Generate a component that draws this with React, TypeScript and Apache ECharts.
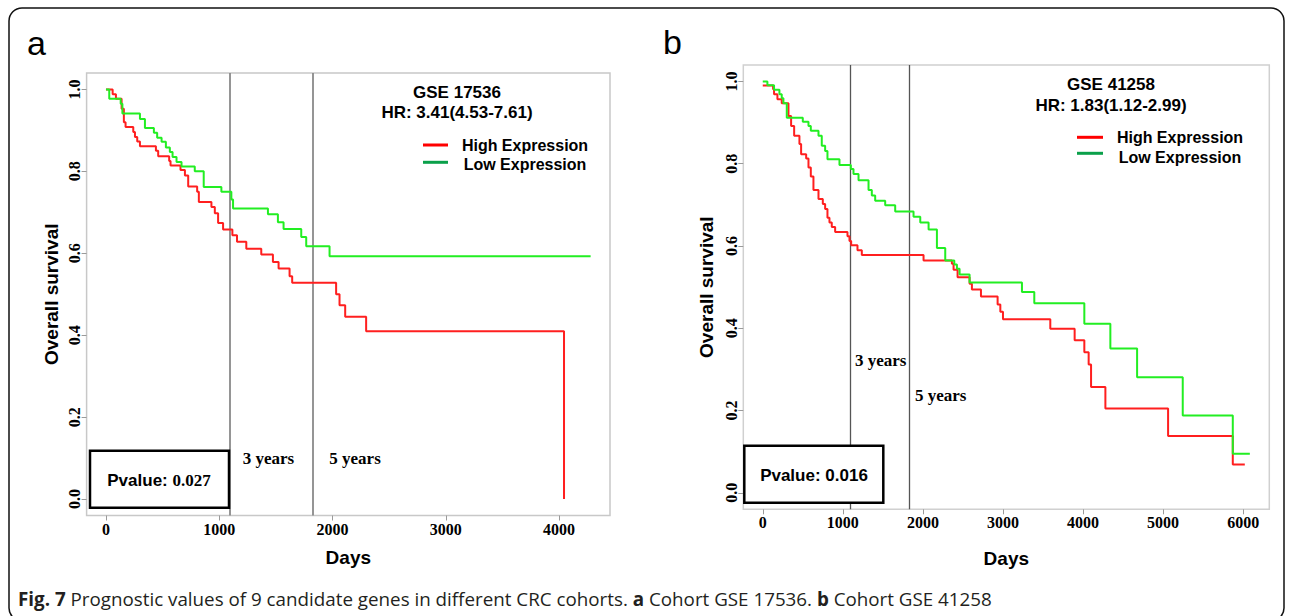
import React, { useEffect, useRef } from "react";
import * as echarts from "echarts";

// ---------- Data ----------
// Panel a: GSE 17536
const aHighDays = [0, 59, 88, 138, 158, 173, 241, 256, 276, 300, 441, 461, 558, 570, 658, 697, 726, 805, 820, 931, 961, 990, 1034, 1116, 1157, 1239, 1371, 1474, 1524, 1621, 1644, 2032, 2062, 2112, 2297, 4044];
const aHighSurv = [1.0, 0.988, 0.977, 0.953, 0.92, 0.908, 0.896, 0.884, 0.873, 0.861, 0.85, 0.837, 0.825, 0.814, 0.803, 0.79, 0.763, 0.75, 0.725, 0.713, 0.698, 0.674, 0.658, 0.644, 0.628, 0.611, 0.597, 0.579, 0.563, 0.544, 0.528, 0.5, 0.473, 0.445, 0.41, 0.0];
const aLowDays = [0, 29, 130, 145, 300, 344, 423, 452, 491, 529, 564, 588, 623, 667, 784, 863, 1019, 1107, 1122, 1430, 1518, 1568, 1724, 1768, 1974, 4279];
const aLowSurv = [1.0, 0.977, 0.965, 0.941, 0.928, 0.906, 0.894, 0.882, 0.872, 0.858, 0.847, 0.835, 0.823, 0.812, 0.8, 0.762, 0.75, 0.731, 0.709, 0.695, 0.676, 0.659, 0.64, 0.617, 0.593, 0.593];

// Panel b: GSE 41258
const bHighDays = [0, 129, 141, 183, 237, 321, 354, 392, 458, 479, 542, 571, 600, 633, 696, 750, 779, 808, 833, 862, 904, 1058, 1083, 1104, 1183, 1237, 2008, 2362, 2383, 2433, 2583, 2612, 2725, 2933, 2967, 3000, 3591, 3895, 4016, 4070, 4100, 4279, 5062, 5870, 6020];
const bHighSurv = [0.99, 0.981, 0.969, 0.957, 0.947, 0.916, 0.892, 0.868, 0.848, 0.823, 0.813, 0.791, 0.769, 0.736, 0.714, 0.702, 0.69, 0.669, 0.657, 0.646, 0.634, 0.624, 0.612, 0.602, 0.59, 0.578, 0.565, 0.557, 0.542, 0.524, 0.508, 0.494, 0.477, 0.458, 0.44, 0.422, 0.399, 0.371, 0.342, 0.312, 0.257, 0.205, 0.138, 0.069, 0.069];
const bLowDays = [0, 58, 141, 208, 237, 258, 300, 500, 571, 600, 696, 737, 779, 808, 958, 1100, 1133, 1196, 1321, 1362, 1404, 1529, 1654, 1883, 1967, 2071, 2175, 2279, 2392, 2425, 2458, 2583, 3237, 3391, 4016, 4341, 4675, 5245, 5870, 6083];
const bLowSurv = [1.0, 0.991, 0.98, 0.969, 0.959, 0.947, 0.912, 0.902, 0.892, 0.88, 0.868, 0.844, 0.831, 0.811, 0.797, 0.787, 0.775, 0.76, 0.736, 0.723, 0.71, 0.699, 0.684, 0.671, 0.657, 0.64, 0.595, 0.565, 0.555, 0.545, 0.531, 0.511, 0.488, 0.461, 0.411, 0.351, 0.281, 0.188, 0.095, 0.095];

const xTicksA = [0, 1000, 2000, 3000, 4000];
const xTicksB = [0, 1000, 2000, 3000, 4000, 5000, 6000];
const yTicks = [0, 0.2, 0.4, 0.6, 0.8, 1.0];
const yearMarks = [1095, 1825];
const yearLabels = ["3 years", "5 years"];
const seriesNames = ["High Expression", "Low Expression"];
const titlesA = ["GSE 17536", "HR: 3.41(4.53-7.61)"];
const titlesB = ["GSE 41258", "HR: 1.83(1.12-2.99)"];
const pA = "0.027";
const pB = "0.016";

const SANS = "Liberation Sans";
const SERIF = "Liberation Serif";

function pairs(d: number[], s: number[]) {
  return d.map((x, i) => [x, s[i]]);
}

function makeX(grid: number, min: number, max: number, ticks: number[], gap: number, margin: number) {
  return {
    gridIndex: grid,
    type: "value",
    position: "bottom",
    min,
    max,
    splitLine: { show: false },
    axisLine: { show: false, onZero: false },
    axisTick: { show: true, customValues: ticks, length: 5, lineStyle: { color: "#9a9a9a", width: 1 } },
    axisLabel: {
      customValues: ticks,
      formatter: (v: number) => String(Math.round(v)),
      fontFamily: SERIF,
      fontWeight: "bold",
      fontSize: 16,
      color: "#000",
      margin,
    },
    name: "Days",
    nameLocation: "middle",
    nameGap: gap,
    nameTextStyle: { fontFamily: SANS, fontWeight: "bold", fontSize: 19, color: "#000" },
  };
}

function makeY(grid: number, gap: number) {
  return {
    gridIndex: grid,
    type: "value",
    position: "left",
    min: -0.04,
    max: 1.04,
    splitLine: { show: false },
    axisLine: { show: false, onZero: false },
    axisTick: { show: true, customValues: yTicks, length: 5, lineStyle: { color: "#9a9a9a", width: 1 } },
    axisLabel: {
      customValues: yTicks,
      formatter: (v: number) => v.toFixed(1),
      rotate: 90,
      fontFamily: SERIF,
      fontWeight: "bold",
      fontSize: 16,
      color: "#000",
      margin: 4,
    },
    name: "Overall survival",
    nameLocation: "middle",
    nameRotate: 90,
    nameGap: gap,
    nameTextStyle: { fontFamily: SANS, fontWeight: "bold", fontSize: 19, color: "#000" },
  };
}

function txt(x: number, y: number, text: string, opts: any = {}) {
  const align = opts.align || "center";
  return {
    type: "text",
    x,
    y,
    z: 20,
    style: {
      text,
      fill: opts.fill || "#000",
      fontFamily: opts.family || SANS,
      fontWeight: opts.weight || "bold",
      fontSize: opts.size || 16,
      align,
      textAlign: align,
      verticalAlign: "middle",
      textVerticalAlign: "middle",
      rich: opts.rich,
    },
  };
}

function hline(x1: number, x2: number, y: number, color: string) {
  return {
    type: "line",
    z: 20,
    shape: { x1, y1: y, x2, y2: y },
    style: { stroke: color, lineWidth: 3 },
  };
}

function box(x: number, y: number, w: number, h: number) {
  return {
    type: "rect",
    z: 15,
    shape: { x, y, width: w, height: h },
    style: { fill: "#fff", stroke: "#000", lineWidth: 2.5 },
  };
}

export default function App() {
  const ref = useRef<HTMLDivElement>(null);

  useEffect(() => {
    if (!ref.current) return;
    const chart = echarts.init(ref.current, undefined, { renderer: "svg" });

    const red = "#ff1f1f";
    const green = "#22ee22";
    const legRed = "#ff0000";
    const legGreen = "#0aa04a";

    const mk = (color: string, width: number) => ({
      silent: true,
      symbol: ["none", "none"],
      label: { show: false },
      lineStyle: { type: "solid", color, width },
      data: yearMarks.map((v) => ({ xAxis: v })),
      z: 1,
    });

    const option: any = {
      animation: false,
      backgroundColor: "#fff",
      grid: [
        { left: 86.6, top: 73, width: 523.4, height: 442.5, show: true, borderColor: "#c8c8c8", borderWidth: 1.5, backgroundColor: "transparent" },
        { left: 743.3, top: 65, width: 526, height: 444.3, show: true, borderColor: "#d0d0d0", borderWidth: 1.5, backgroundColor: "transparent" },
      ],
      xAxis: [makeX(0, -171, 4450, xTicksA, 32, 6), makeX(1, -243, 6326, xTicksB, 40, 5)],
      yAxis: [makeY(0, 26), makeY(1, 27)],
      series: [
        {
          name: seriesNames[0], type: "line", xAxisIndex: 0, yAxisIndex: 0, step: "end",
          data: pairs(aHighDays, aHighSurv), symbol: "none", silent: true,
          lineStyle: { color: red, width: 2 }, itemStyle: { color: red },
          markLine: mk("#8a8a8a", 1.8),
        },
        {
          name: seriesNames[1], type: "line", xAxisIndex: 0, yAxisIndex: 0, step: "end",
          data: pairs(aLowDays, aLowSurv), symbol: "none", silent: true,
          lineStyle: { color: green, width: 2 }, itemStyle: { color: green },
        },
        {
          name: seriesNames[0], type: "line", xAxisIndex: 1, yAxisIndex: 1, step: "end",
          data: pairs(bHighDays, bHighSurv), symbol: "none", silent: true,
          lineStyle: { color: red, width: 2 }, itemStyle: { color: red },
          markLine: mk("#555555", 1.3),
        },
        {
          name: seriesNames[1], type: "line", xAxisIndex: 1, yAxisIndex: 1, step: "end",
          data: pairs(bLowDays, bLowSurv), symbol: "none", silent: true,
          lineStyle: { color: green, width: 2 }, itemStyle: { color: green },
        },
      ],
      graphic: [
        // outer frame (bottom edge runs just past the page)
        {
          type: "rect", z: 0,
          shape: { x: 9, y: 8, width: 1275, height: 613, r: 13 },
          style: { fill: "none", stroke: "#111", lineWidth: 1.5 },
        },
        // panel letters
        txt(27, 43, "a", { align: "left", size: 34, weight: "normal" }),
        txt(663, 42, "b", { align: "left", size: 34, weight: "normal" }),
        // panel a annotations
        txt(457, 92, titlesA[0], { size: 17 }),
        txt(457, 112, titlesA[1], { size: 17 }),
        hline(423, 448, 145, legRed),
        hline(423, 448, 162.3, legGreen),
        txt(525, 145, seriesNames[0], { size: 16 }),
        txt(525, 164.7, seriesNames[1], { size: 16 }),
        box(90, 450.7, 139, 57),
        txt(159, 480, `{s|Pvalue: }{n|${pA}}`, {
          size: 17,
          rich: {
            s: { fontFamily: SANS, fontWeight: "bold", fontSize: 17, fill: "#000" },
            n: { fontFamily: SERIF, fontWeight: "bold", fontSize: 17, fill: "#000" },
          },
        }),
        txt(242.7, 458.3, yearLabels[0], { align: "left", family: SERIF, size: 17 }),
        txt(329.3, 458.3, yearLabels[1], { align: "left", family: SERIF, size: 17 }),
        // panel b annotations
        txt(1111, 84, titlesB[0], { size: 17 }),
        txt(1111, 105, titlesB[1], { size: 17 }),
        hline(1077, 1103, 137.3, legRed),
        hline(1077, 1103, 153.3, legGreen),
        txt(1180, 137.5, seriesNames[0], { size: 16 }),
        txt(1180, 157.3, seriesNames[1], { size: 16 }),
        box(744.3, 445.7, 139, 57),
        txt(814, 475, `Pvalue: ${pB}`, { size: 17 }),
        txt(855, 360, yearLabels[0], { align: "left", family: SERIF, size: 17 }),
        txt(915, 395, yearLabels[1], { align: "left", family: SERIF, size: 17 }),
        // caption
        txt(18, 599, "{b|Fig. 7} Prognostic values of 9 candidate genes in different CRC cohorts. {b|a} Cohort GSE 17536. {b|b} Cohort GSE 41258", {
          align: "left",
          family: "Open Sans",
          weight: "normal",
          size: 18.8,
          fill: "#231f20",
          rich: {
            b: { fontFamily: "Open Sans", fontWeight: "bold", fontSize: 18.8, fill: "#231f20" },
          },
        }),
      ],
    };

    chart.setOption(option);
    return () => chart.dispose();
  }, []);

  return (
    <div
      ref={ref}
      style={{ position: "fixed", left: 0, top: 0, width: 1290, height: 616, background: "#fff" }}
    />
  );
}
